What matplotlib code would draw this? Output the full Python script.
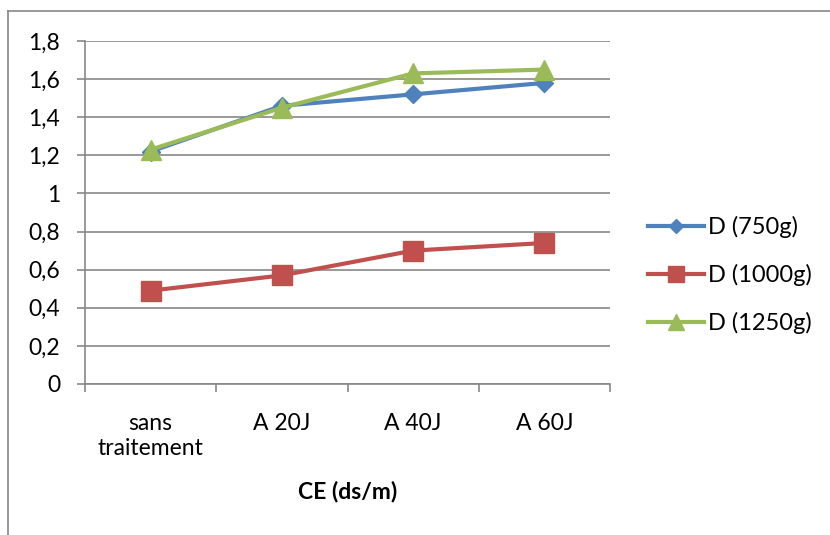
import matplotlib.pyplot as plt
from matplotlib.lines import Line2D
from matplotlib.ticker import FixedLocator, FuncFormatter

plt.rcParams['font.family'] = ['Lato', 'DejaVu Sans']

categories = ["sans\ntraitement", "A 20J", "A 40J", "A 60J"]
d_750 = [1.22, 1.46, 1.52, 1.58]
d_1000 = [0.49, 0.57, 0.70, 0.74]
d_1250 = [1.23, 1.45, 1.63, 1.65]
series_labels = ["D (750g)", "D (1000g)", "D (1250g)"]

grid_grey = "#878787"
fs = 16.5

fig = plt.figure(figsize=(8.3, 5.35), dpi=100)
ax = fig.add_axes([85 / 830, 1 - 384 / 535, 525 / 830, 343 / 535])

x = list(range(len(categories)))
ax.plot(x, d_750, color="#4F81BD", lw=3, marker="D", ms=9.5, label=series_labels[0], zorder=3)
ax.plot(x, d_1000, color="#C0504D", lw=3, marker="s", ms=14, label=series_labels[1], zorder=3)
ax.plot(x, d_1250, color="#9BBB59", lw=3, marker="^", ms=15, label=series_labels[2], zorder=4)

ax.set_xlim(-0.5, 3.5)
ax.set_ylim(0, 1.8)
ax.set_yticks([i * 0.2 for i in range(10)])
ax.yaxis.set_major_formatter(FuncFormatter(lambda v, p: ("%.1f" % v).rstrip("0").rstrip(".").replace(".", ",")))
ax.grid(axis="y", color=grid_grey, lw=1.2)
ax.set_axisbelow(True)

ax.set_xticks(x)
ax.set_xticklabels(categories, fontsize=fs, linespacing=1.2)
ax.xaxis.set_minor_locator(FixedLocator([-0.5, 0.5, 1.5, 2.5, 3.5]))
ax.tick_params(axis="x", which="major", length=0, pad=21)
ax.tick_params(axis="x", which="minor", length=6, color=grid_grey, width=1.2)
ax.tick_params(axis="y", length=6, color=grid_grey, width=1.2, labelsize=fs, pad=12)

for side in ("top", "right"):
    ax.spines[side].set_visible(False)
for side in ("left", "bottom"):
    ax.spines[side].set_color(grid_grey)
    ax.spines[side].set_linewidth(1.2)

ax.set_xlabel("CE (ds/m)", fontsize=fs, fontweight="bold", labelpad=16)

fig.legend(loc="upper left", bbox_to_anchor=(627 / 830, 1 - 195 / 535), frameon=False,
           fontsize=17, handlelength=2.35, handletextpad=0.2, labelspacing=1.1, markerscale=0.8)

# chart frame
fig.add_artist(Line2D([8 / 830, 8 / 830], [0, 1 - 11 / 535], color=grid_grey, lw=1.2))
fig.add_artist(Line2D([8 / 830, 1], [1 - 11 / 535, 1 - 11 / 535], color=grid_grey, lw=1.2))

fig.savefig("out.png", dpi=100)
